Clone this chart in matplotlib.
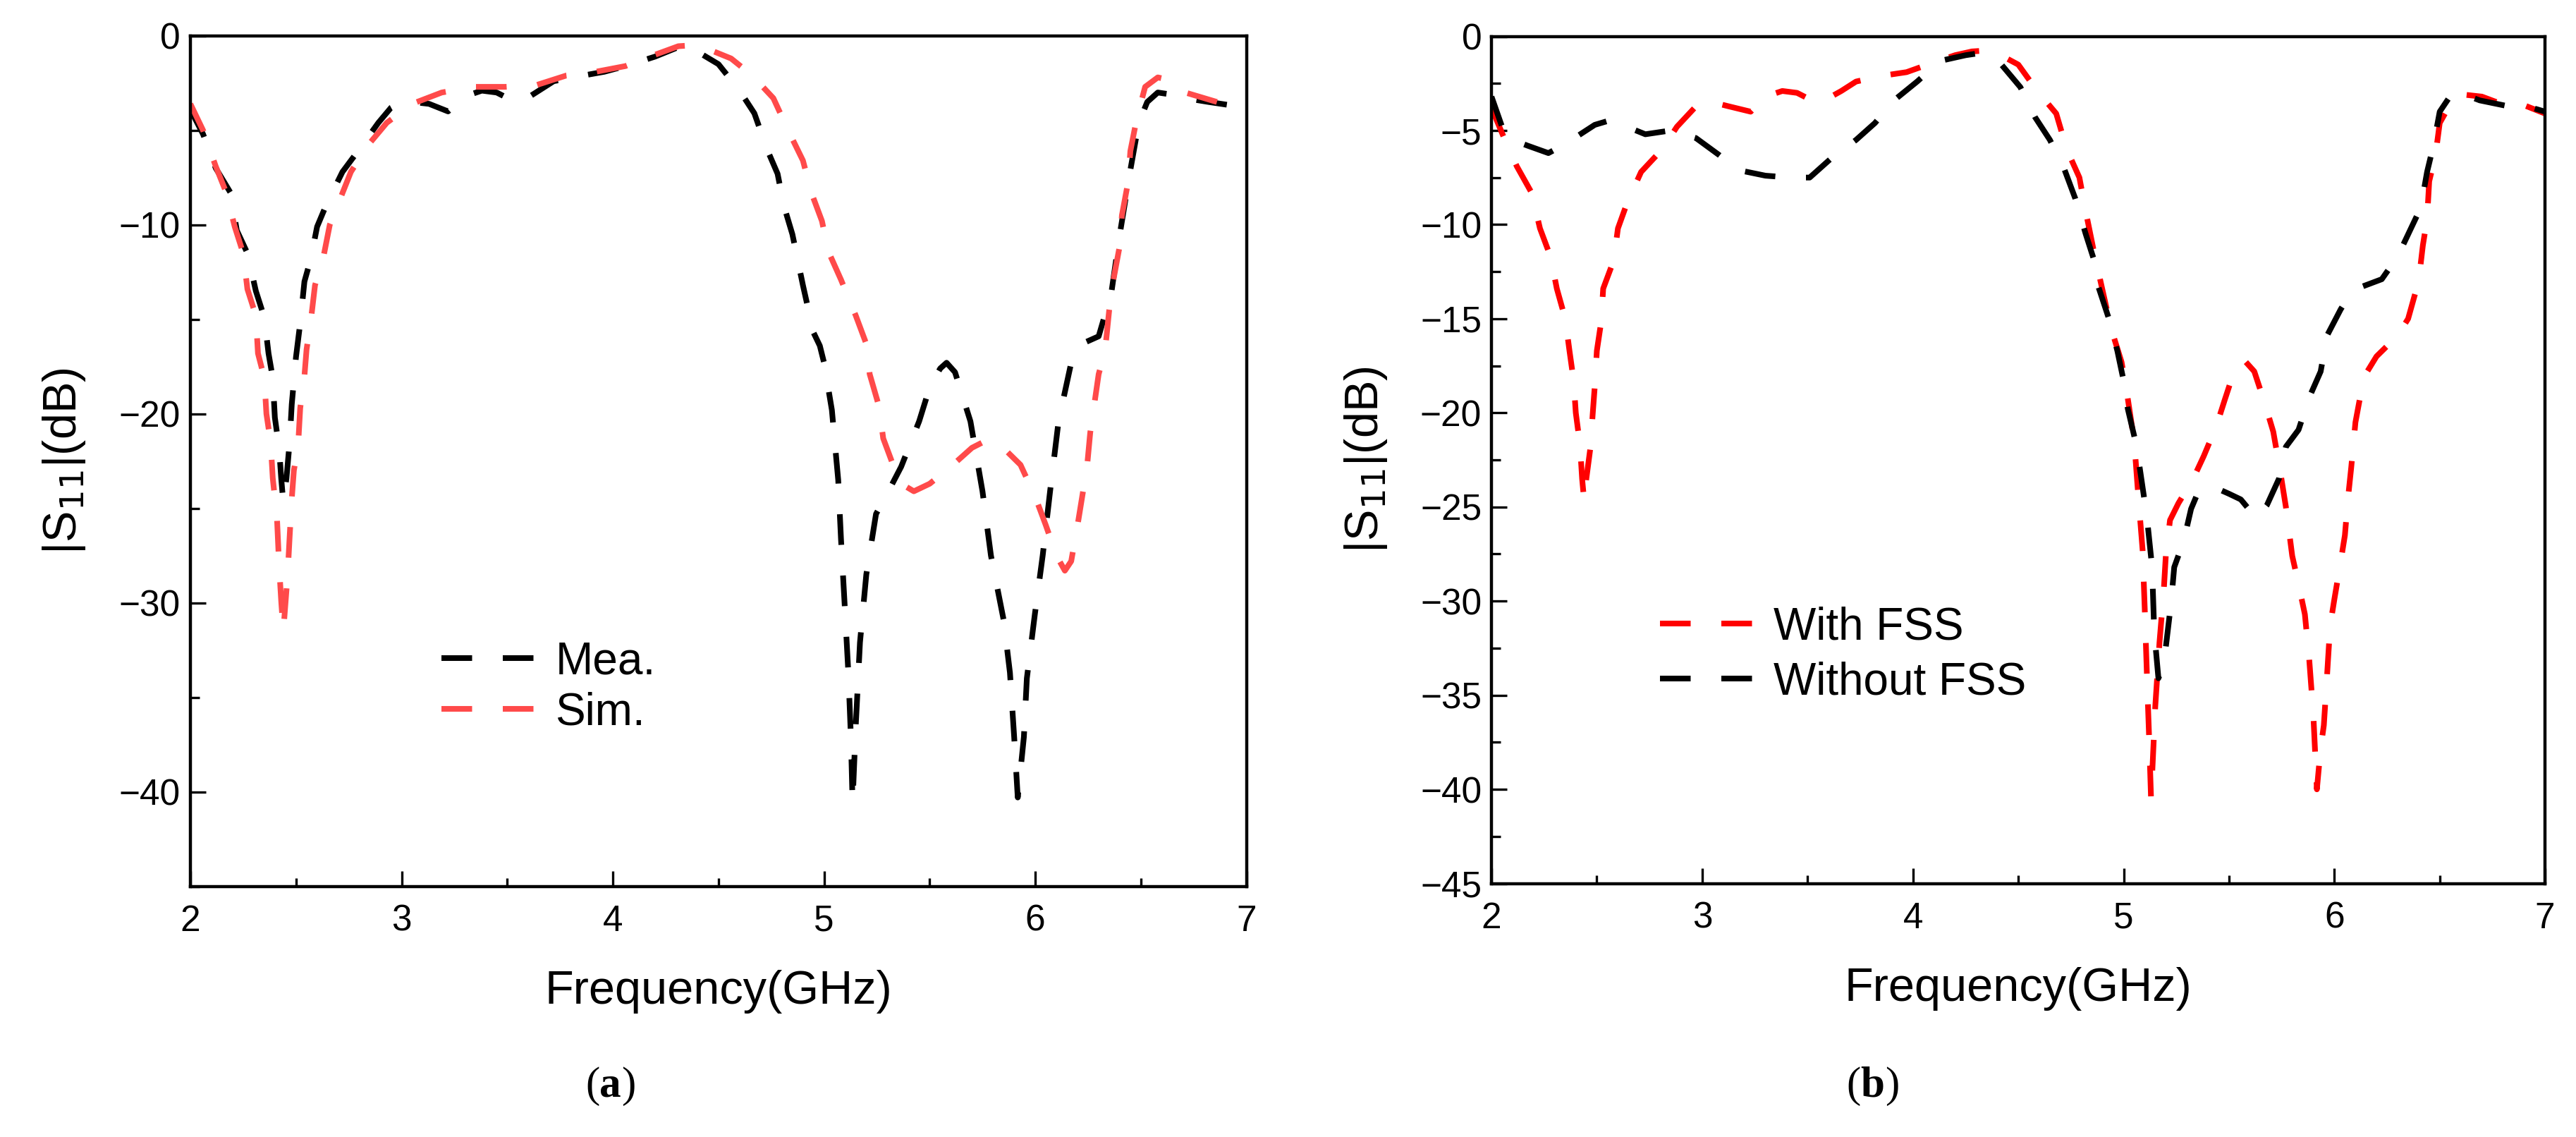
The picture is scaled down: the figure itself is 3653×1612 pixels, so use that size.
import matplotlib
matplotlib.use("Agg")
import matplotlib.pyplot as plt
from matplotlib.ticker import MultipleLocator
from matplotlib.offsetbox import TextArea, HPacker, AnnotationBbox

plt.rcParams['font.family'] = ['Liberation Sans', 'DejaVu Sans']

# ---------------- data (a) ----------------
freq_mea = [2.0, 2.06, 2.12, 2.19, 2.22, 2.27, 2.31, 2.35, 2.37, 2.39, 2.40, 2.42, 2.43, 2.44,
            2.455, 2.47, 2.48, 2.50, 2.52, 2.54, 2.57, 2.60, 2.645, 2.72, 2.80, 2.89, 2.95, 3.0,
            3.05, 3.13, 3.22, 3.3, 3.38, 3.45, 3.52, 3.58, 3.65, 3.72, 3.86, 3.96, 4.06, 4.2,
            4.31, 4.36, 4.41, 4.5, 4.6, 4.67, 4.73, 4.78, 4.81, 4.85, 4.90, 4.95, 4.98, 5.0,
            5.037, 5.067, 5.08, 5.097, 5.115, 5.127, 5.135, 5.15, 5.17, 5.2, 5.246, 5.3, 5.365,
            5.45, 5.5, 5.55, 5.58, 5.62, 5.693, 5.75, 5.79, 5.85, 5.88, 5.9, 5.917, 5.946, 5.96,
            5.998, 6.035, 6.07, 6.11, 6.17, 6.22, 6.3, 6.36, 6.4, 6.45, 6.49, 6.53, 6.58, 6.64,
            6.71, 6.82, 7.0]
s11_mea = [-3.9, -5.2, -7.0, -8.3, -10.3, -11.5, -13.5, -14.9, -16.8, -18.1, -20.2, -21.8, -23.4,
           -24.7, -23.4, -21.5, -19.5, -17.0, -15.2, -13.0, -11.8, -10.1, -8.9, -7.2, -6.0, -4.6,
           -3.8, -3.5, -3.5, -3.6, -4.0, -3.2, -2.9, -3.0, -3.4, -3.4, -2.9, -2.4, -2.1, -1.9,
           -1.6, -1.1, -0.6, -0.5, -0.9, -1.5, -2.9, -4.1, -6.0, -7.3, -9.0, -10.5, -13.2,
           -15.7, -16.4, -17.3, -19.8, -23.5, -26.6, -30.0, -33.7, -37.1, -40.6, -36.5, -32.1,
           -28.5, -25.3, -24.2, -22.8, -20.4, -18.6, -17.6, -17.3, -17.8, -20.4, -24.1, -27.5,
           -30.9, -33.7, -37.1, -40.3, -37.1, -34.0, -30.6, -27.5, -24.1, -20.4, -17.3, -16.3,
           -15.9, -13.6, -10.5, -7.1, -4.6, -3.5, -3.0, -3.1, -3.3, -3.5, -3.8]

freq_sim = [2.0, 2.06, 2.12, 2.17, 2.21, 2.25, 2.27, 2.31, 2.32, 2.35, 2.36, 2.38, 2.39, 2.41,
            2.42, 2.43, 2.44, 2.46, 2.47, 2.48, 2.49, 2.51, 2.52, 2.54, 2.55, 2.57, 2.59, 2.63,
            2.66, 2.71, 2.76, 2.84, 2.93, 3.05, 3.19, 3.34, 3.49, 3.64, 3.78, 3.92, 4.06, 4.2,
            4.31, 4.38, 4.45, 4.56, 4.66, 4.76, 4.83, 4.9, 4.94, 4.99, 5.02, 5.08, 5.15, 5.2,
            5.216, 5.26, 5.28, 5.33, 5.38, 5.425, 5.5, 5.6, 5.7, 5.77, 5.83, 5.93, 6.0, 6.05,
            6.1, 6.14, 6.17, 6.2, 6.245, 6.26, 6.3, 6.33, 6.35, 6.37, 6.4, 6.41, 6.44, 6.45,
            6.48, 6.52, 6.58, 6.62, 6.71, 6.86, 7.0]
s11_sim = [-3.6, -5.0, -6.9, -8.3, -10.1, -11.5, -13.4, -14.8, -16.8, -18.1, -20.0, -21.5, -23.4,
           -25.5, -28.0, -29.9, -31.5, -28.6, -26.5, -24.5, -23.0, -21.7, -19.7, -18.0, -16.6,
           -15.1, -13.2, -11.7, -10.0, -8.6, -7.2, -5.8, -4.6, -3.6, -3.0, -2.7, -2.7, -2.6,
           -2.1, -1.9, -1.6, -1.0, -0.55, -0.5, -0.7, -1.2, -2.1, -3.3, -5.0, -6.6, -8.3, -9.8,
           -11.4, -12.9, -14.8, -16.3, -17.9, -19.6, -21.3, -22.8, -23.8, -24.1, -23.7, -22.8,
           -21.8, -21.4, -21.6, -22.7, -24.4, -25.9, -27.5, -28.3, -27.8, -25.9, -22.8, -21.0,
           -17.9, -16.7, -14.5, -12.9, -11.1, -9.5, -7.7, -6.1, -4.4, -2.7, -2.2, -2.3, -3.0,
           -3.5, -3.8]

# ---------------- data (b) ----------------
freq_with = [2.0, 2.06, 2.12, 2.19, 2.23, 2.28, 2.31, 2.35, 2.37, 2.39, 2.40, 2.42, 2.43, 2.44,
             2.45, 2.47, 2.48, 2.49, 2.50, 2.52, 2.53, 2.58, 2.60, 2.645, 2.71, 2.81, 2.88, 2.98,
             3.05, 3.12, 3.23, 3.3, 3.38, 3.45, 3.52, 3.58, 3.66, 3.73, 3.85, 3.97, 4.07, 4.2,
             4.28, 4.35, 4.4, 4.5, 4.59, 4.68, 4.73, 4.79, 4.82, 4.86, 4.9, 4.94, 4.99, 5.015,
             5.05, 5.07, 5.09, 5.1, 5.11, 5.12, 5.13, 5.15, 5.17, 5.19, 5.2, 5.22, 5.26, 5.33,
             5.38, 5.44, 5.48, 5.53, 5.58, 5.62, 5.67, 5.71, 5.74, 5.77, 5.8, 5.83, 5.86, 5.88,
             5.9, 5.917, 5.935, 5.95, 5.965, 5.98, 6.0, 6.03, 6.05, 6.065, 6.08, 6.1, 6.14, 6.2,
             6.3, 6.35, 6.37, 6.4, 6.42, 6.44, 6.45, 6.48, 6.5, 6.56, 6.62, 6.7, 6.82, 6.91, 7.0]
s11_with = [-3.8, -5.4, -6.9, -8.3, -10.2, -11.7, -13.4, -15.0, -16.7, -18.3, -20.0, -21.7,
            -23.5, -24.7, -23.5, -21.8, -20.1, -18.6, -16.7, -15.2, -13.4, -11.9, -10.2, -8.8,
            -7.2, -6.0, -4.8, -3.6, -3.5, -3.7, -4.0, -3.2, -2.9, -3.0, -3.4, -3.4, -2.9, -2.4,
            -2.1, -1.9, -1.5, -1.0, -0.8, -0.75, -0.9, -1.5, -2.9, -4.1, -6.0, -7.5, -9.3,
            -11.5, -13.5, -15.5, -17.3, -18.9, -21.5, -24.5, -27.3, -30.4, -33.8, -37.0, -40.5,
            -35.6, -32.2, -29.5, -27.6, -25.7, -24.8, -23.5, -22.3, -20.7, -19.3, -17.6, -17.3,
            -17.8, -19.5, -21.0, -22.9, -25.0, -27.6, -29.1, -30.7, -33.0, -36.0, -40.0, -37.8,
            -36.6, -34.0, -31.3, -29.9, -27.9, -26.5, -24.5, -22.9, -20.5, -18.1, -17.0, -15.9,
            -15.0, -14.2, -13.0, -11.1, -9.7, -7.7, -6.3, -4.6, -3.4, -3.1, -3.2, -3.7, -3.7,
            -4.1]

freq_without = [2.0, 2.05, 2.1, 2.17, 2.27, 2.32, 2.38, 2.49, 2.55, 2.62, 2.73, 2.79, 2.85, 2.97,
                3.08, 3.17, 3.30, 3.42, 3.51, 3.61, 3.73, 3.82, 3.91, 4.02, 4.13, 4.25, 4.31,
                4.36, 4.42, 4.51, 4.58, 4.65, 4.72, 4.77, 4.82, 4.86, 4.88, 4.93, 4.97, 5.0,
                5.02, 5.06, 5.08, 5.11, 5.135, 5.145, 5.165, 5.19, 5.225, 5.24, 5.285, 5.32,
                5.35, 5.42, 5.5, 5.556, 5.63, 5.68, 5.737, 5.77, 5.83, 5.88, 5.935, 5.965, 6.03,
                6.08, 6.13, 6.225, 6.3, 6.41, 6.44, 6.47, 6.5, 6.56, 6.62, 6.69, 6.82, 6.91, 7.0]
s11_without = [-3.2, -4.8, -5.5, -5.8, -6.2, -5.9, -5.5, -4.7, -4.5, -4.7, -5.2, -5.1, -5.0,
               -5.4, -6.3, -7.1, -7.4, -7.5, -7.5, -6.5, -5.5, -4.6, -3.4, -2.4, -1.3, -1.0,
               -0.9, -1.0, -1.5, -2.7, -4.3, -5.5, -7.1, -8.6, -10.5, -11.9, -13.3, -15.0,
               -16.7, -18.3, -19.8, -21.7, -23.2, -25.5, -28.2, -31.6, -34.1, -33.4, -30.1,
               -28.2, -26.8, -25.1, -24.3, -23.9, -24.3, -24.6, -25.6, -24.9, -23.5, -21.8,
               -20.9, -19.2, -17.8, -15.9, -14.5, -13.6, -13.3, -12.9, -11.7, -9.1, -7.2, -5.8,
               -4.0, -3.0, -3.1, -3.4, -3.7, -3.7, -4.0]

yticks_a = [0, -10, -20, -30, -40]
yticks_b = [0, -5, -10, -15, -20, -25, -30, -35, -40, -45]
xlabel = "Frequency(GHz)"
ylabel = r"|S$_{11}$|(dB)"

fig = plt.figure(figsize=(3653 / 200, 1612 / 200), dpi=200)
ax1 = fig.add_axes([0.0739, 0.2205, 0.410, 0.748])
ax2 = fig.add_axes([0.5790, 0.2230, 0.409, 0.745])

LW = 2.9
DASH = (5.4, 5.4)
TICK_FS = 18.5
LABEL_FS = 24
LEG_FS = 23


def style(ax, yminor, yticks):
    ax.set_xlim(2, 7)
    ax.set_ylim(-45, 0)
    ax.xaxis.set_major_locator(MultipleLocator(1))
    ax.xaxis.set_minor_locator(MultipleLocator(0.5))
    ax.set_yticks(yticks)
    ax.yaxis.set_minor_locator(MultipleLocator(yminor))
    ax.tick_params(which='both', direction='in', top=False, right=False,
                   labelsize=TICK_FS, width=1.2)
    ax.tick_params(axis='y', which='both', pad=5)
    ax.tick_params(axis='x', which='both', pad=9)
    ax.tick_params(which='major', length=8)
    ax.tick_params(which='minor', length=4.5)
    for sp in ax.spines.values():
        sp.set_linewidth(1.6)
    ax.set_xlabel(xlabel, fontsize=LABEL_FS, labelpad=16)
    ax.set_ylabel(ylabel, fontsize=LABEL_FS, labelpad=16)


ax1.plot(freq_mea, s11_mea, color='black', lw=LW, linestyle='--', dashes=DASH, label='Mea.')
ax1.plot(freq_sim, s11_sim, color='#FF4A4A', lw=LW, linestyle='--', dashes=DASH, label='Sim.')
style(ax1, 5, yticks_a)
ax1.legend(loc='center left', bbox_to_anchor=(0.238, 0.234), frameon=False, fontsize=LEG_FS,
           handlelength=2.07, handletextpad=0.45, labelspacing=0.18,
           borderpad=0, borderaxespad=0)

ax2.plot(freq_with, s11_with, color='#FF0000', lw=LW, linestyle='--', dashes=DASH, label='With FSS')
ax2.plot(freq_without, s11_without, color='black', lw=LW, linestyle='--', dashes=DASH, label='Without FSS')
style(ax2, 2.5, yticks_b)
ax2.legend(loc='center left', bbox_to_anchor=(0.16, 0.27), frameon=False, fontsize=LEG_FS,
           handlelength=2.07, handletextpad=0.45, labelspacing=0.28,
           borderpad=0, borderaxespad=0)


def label_box(xfrac, letter):
    parts = [TextArea("(", textprops=dict(fontsize=22, family='Liberation Serif')),
             TextArea(letter, textprops=dict(fontsize=22, family='Liberation Serif', weight='bold')),
             TextArea(")", textprops=dict(fontsize=22, family='Liberation Serif'))]
    box = HPacker(children=parts, align='baseline', pad=0, sep=0)
    ab = AnnotationBbox(box, (xfrac, 0.045), xycoords='figure fraction', frameon=False,
                        box_alignment=(0.5, 0.5))
    fig.add_artist(ab)


label_box(0.237, 'a')
label_box(0.727, 'b')

fig.savefig("out.png", dpi=200, facecolor='white')
